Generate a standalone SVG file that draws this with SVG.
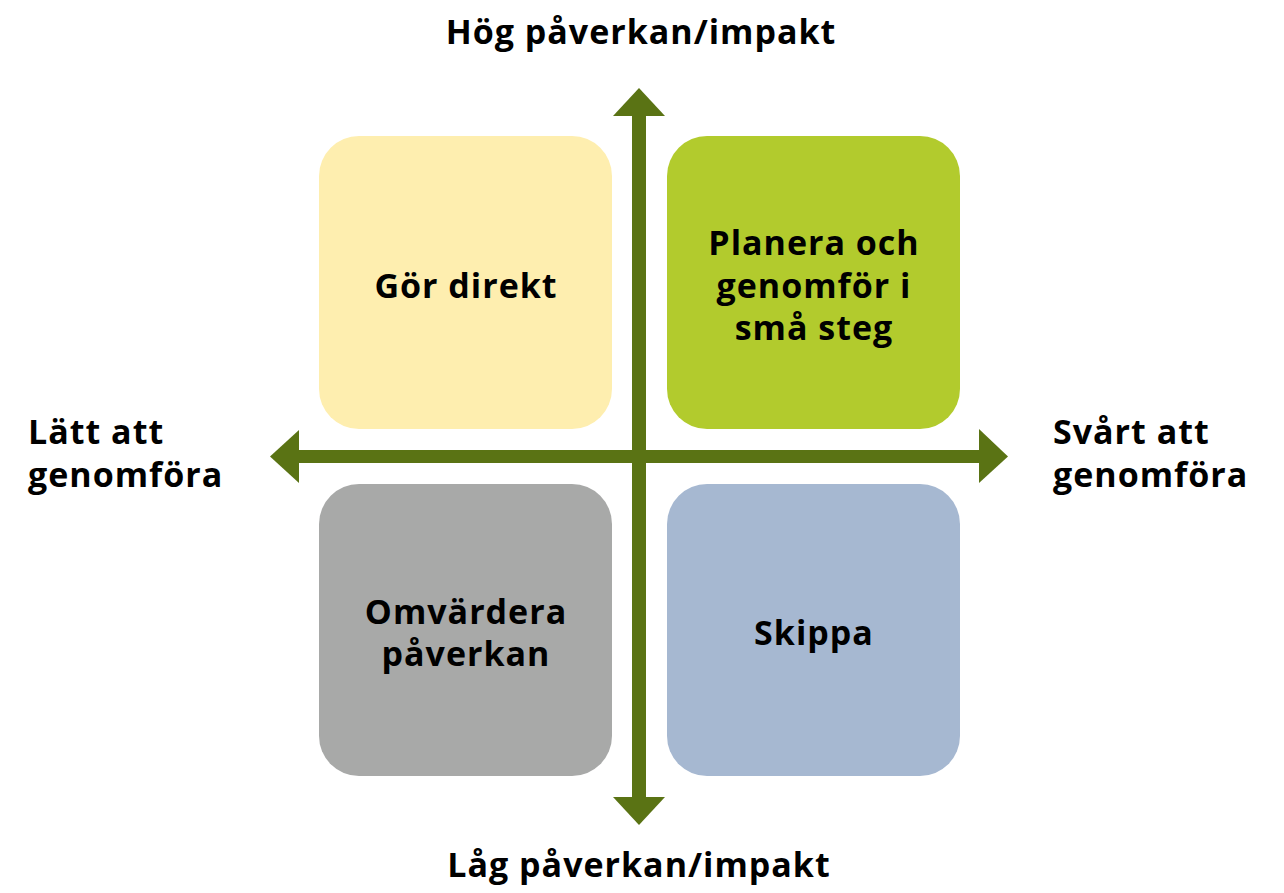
<svg xmlns="http://www.w3.org/2000/svg" width="1284" height="893" viewBox="0 0 1284 893">
<style>
text{font-family:"Open Sans","Noto Sans","Liberation Sans",sans-serif;font-weight:700;fill:#000;font-size:34px;letter-spacing:1px}
.c{text-anchor:middle}
.ax{fill:#5A7314}
</style>
<rect width="1284" height="893" fill="#fff"/>
<g id="q-gor-direkt">
<rect x="319" y="136" width="293" height="293" rx="40" fill="#FEEEAF"/>
<text class="c" x="466" y="298">Gör direkt</text>
</g>
<g id="q-planera">
<rect x="667" y="136" width="293" height="293" rx="40" fill="#B2CB2D"/>
<text class="c" x="814" y="255">Planera och</text>
<text class="c" x="814" y="298">genomför i</text>
<text class="c" x="814" y="340">små steg</text>
</g>
<g id="q-omvardera">
<rect x="319" y="484" width="293" height="292" rx="40" fill="#A8A9A8"/>
<text class="c" x="466" y="624">Omvärdera</text>
<text class="c" x="466" y="666">påverkan</text>
</g>
<g id="q-skippa">
<rect x="667" y="484" width="293" height="292" rx="40" fill="#A6B8D1"/>
<text class="c" x="814" y="645">Skippa</text>
</g>
<g id="connectors">
<rect class="ax" x="632" y="114" width="14" height="686"/>
<polygon class="ax" points="639,88 665,116 613,116"/>
<polygon class="ax" points="639,825 665,797 613,797"/>
<rect class="ax" x="296" y="450" width="686" height="13"/>
<polygon class="ax" points="270,456.5 299,430 299,483"/>
<polygon class="ax" points="1008,456.5 979,429 979,483"/>
</g>
<g id="labels">
<text class="c" x="641" y="44">Hög påverkan/impakt</text>
<text class="c" x="639" y="877">Låg påverkan/impakt</text>
<text x="28" y="444">Lätt att</text>
<text x="28" y="487">genomföra</text>
<text x="1053" y="444">Svårt att</text>
<text x="1053" y="487">genomföra</text>
</g>
</svg>
